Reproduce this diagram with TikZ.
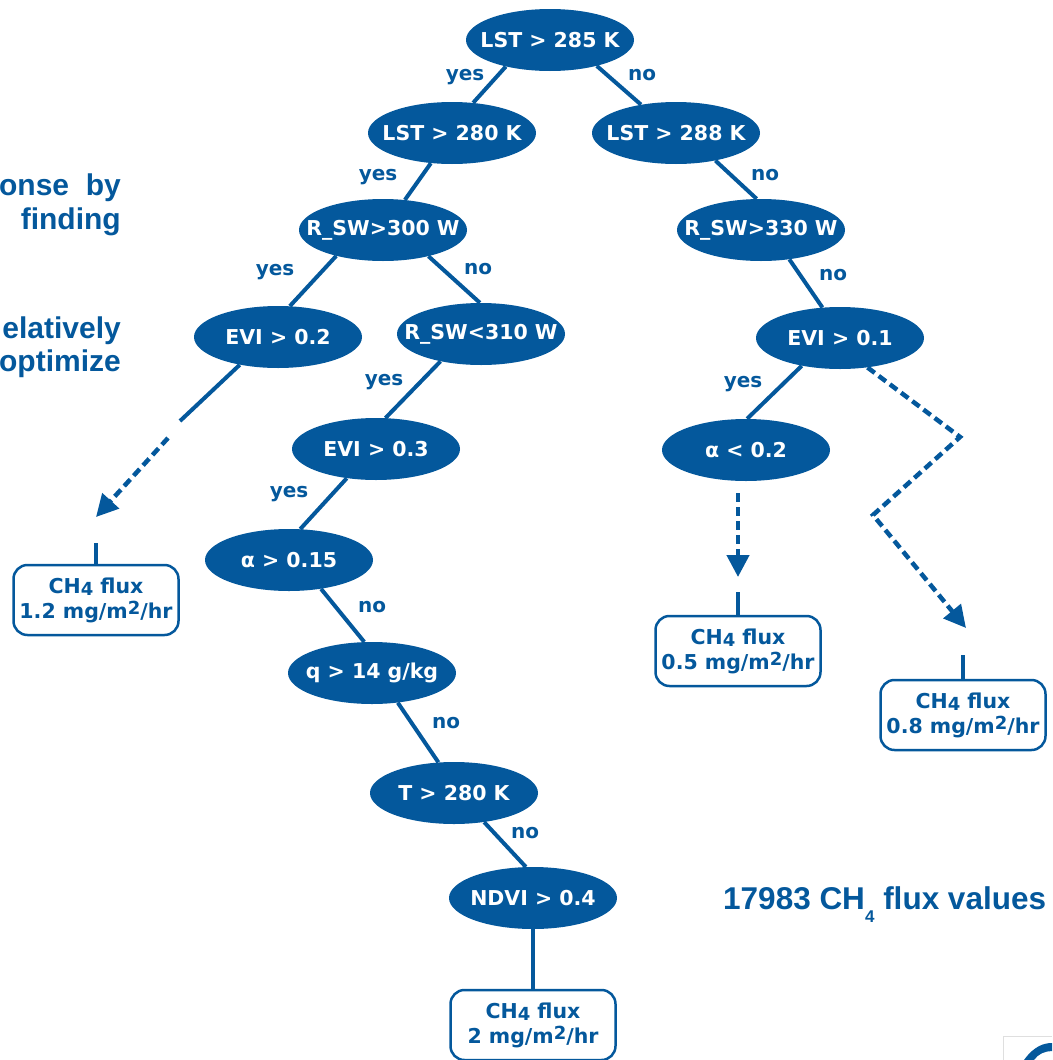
\documentclass[tikz,border=0pt]{standalone}
\usepackage{fontspec}
\setmainfont{DejaVu Sans}
\newfontfamily\slidefont{Liberation Sans}
\usetikzlibrary{shapes.geometric,arrows.meta}
\definecolor{treeblue}{RGB}{4,88,156}
\newcommand{\cond}[1]{\makebox[0pt]{#1}}
\newcommand{\lowfour}{\raisebox{-2pt}{\fontsize{18}{18}\selectfont 4}}
\newcommand{\hightwo}{\raisebox{4pt}{\fontsize{18}{18}\selectfont 2}}
\tikzset{
    test/.style={ellipse, fill=treeblue, text=white, font=\bfseries\fontsize{20.5}{24}\selectfont,
        minimum width=168pt, minimum height=62pt, inner sep=0pt},
    leaf/.style={draw=treeblue, line width=2.5pt, rounded corners=14pt, fill=white, text=treeblue,
        align=center, font=\bfseries\fontsize{20.5}{25}\selectfont,
        minimum width=165pt, minimum height=70pt, inner sep=0pt},
    branch/.style={treeblue, line width=4pt},
    guess/.style={treeblue, line width=4.5pt, dash pattern=on 9pt off 5pt},
    reply/.style={text=treeblue, font=\bfseries\fontsize{20}{22}\selectfont},
    slide/.style={text=treeblue, inner sep=0pt, font=\slidefont\bfseries\fontsize{30}{34}\selectfont}
}
\begin{document}
\begin{tikzpicture}[x=1pt, y=1pt, >={Triangle[length=22pt,width=22pt]}]
    \useasboundingbox (0,0) rectangle (1052,-1060);

    % slide text cut by the left edge
    \node[slide, anchor=base east] (txtA) at (121,-195) {onse\ \ by};
    \node[slide, anchor=base east] (txtB) at (121,-229) {finding};
    \node[slide, anchor=base east] (txtC) at (121,-338) {elatively};
    \node[slide, anchor=base east] (txtD) at (121,-371) {optimize};
    \node[slide, anchor=base west, font=\slidefont\bfseries\fontsize{31.5}{34}\selectfont] (txtE) at (723,-909)
        {17983 CH\raisebox{-13pt}{\fontsize{17}{17}\selectfont 4} flux values};

    % tests
    \node[test] (root) at (550,-40) {\cond{LST > 285 K}};
    \node[test] (lstA) at (452,-133) {\cond{LST > 280 K}};
    \node[test] (lstB) at (676,-133) {\cond{LST > 288 K}};
    \node[test] (swA) at (383,-230) {\cond{R\_SW>300 W}};
    \node[test] (swB) at (761,-230) {\cond{R\_SW>330 W}};
    \node[test] (eviA) at (278,-337) {\cond{EVI > 0.2}};
    \node[test] (swC) at (481,-334) {\cond{R\_SW<310 W}};
    \node[test] (eviB) at (840,-338) {\cond{EVI > 0.1}};
    \node[test] (eviC) at (376,-449) {\cond{EVI > 0.3}};
    \node[test] (alA) at (746,-450) {\cond{α < 0.2}};
    \node[test] (alB) at (289,-560) {\cond{α > 0.15}};
    \node[test] (hum) at (372,-673) {\cond{q > 14 g/kg}};
    \node[test] (tmp) at (454,-793) {\cond{T > 280 K}};
    \node[test] (ndvi) at (533,-898) {\cond{NDVI > 0.4}};

    % leaves
    \node[leaf] (outA) at (96,-600) {CH\lowfour{} flux\\1.2 mg/m\hightwo/hr};
    \node[leaf] (outB) at (738,-651) {CH\lowfour{} flux\\0.5 mg/m\hightwo/hr};
    \node[leaf] (outC) at (963,-715) {CH\lowfour{} flux\\0.8 mg/m\hightwo/hr};
    \node[leaf] (outD) at (533,-1025) {CH\lowfour{} flux\\2 mg/m\hightwo/hr};

    % branches
    \draw[branch] (root.211) -- (lstA.55);
    \draw[branch] (root.331) -- (lstB.141);
    \draw[branch] (lstA.235) -- (swA.54);
    \draw[branch] (lstB.325) -- (swB.98);
    \draw[branch] (swA.209) -- (eviA.69);
    \draw[branch] (swA.330) -- (swC.92);
    \draw[branch] (swB.314) -- (eviB.120);
    \draw[branch] (swC.214) -- (eviC.73);
    \draw[branch] (eviC.225) -- (alB.70);
    \draw[branch] (alB.318) -- (hum.104);
    \draw[branch] (hum.311) -- (tmp.117);
    \draw[branch] (tmp.316) -- (ndvi.103);
    \draw[branch] (ndvi.south) -- (outD.north);
    \draw[branch] (eviB.216) -- (alA.88);

    % shortened paths
    \coordinate (cutA) at (180,-421);
    \coordinate (gapA) at (168,-438);
    \coordinate (tipA) at (96,-517);
    \coordinate (stemA) at (96,-543);
    \draw[branch] (eviA.216) -- (cutA);
    \draw[guess, ->] (gapA) -- (tipA);
    \draw[branch] (stemA) -- (outA.north);

    \coordinate (gapB) at (738,-493);
    \coordinate (tipB) at (738,-577);
    \coordinate (stemB) at (738,-592);
    \draw[guess, ->] (gapB) -- (tipB);
    \draw[branch] (stemB) -- (outB.north);

    \coordinate (bendA) at (960,-437);
    \coordinate (bendB) at (873,-515);
    \coordinate (tipC) at (966,-628);
    \coordinate (stemC) at (963,-655);
    \draw[guess, ->] (eviB.313) -- (bendA) -- (bendB) -- (tipC);
    \draw[branch] (stemC) -- (outC.north);

    % answers
    \node[reply] (y1) at (465,-77) {yes};
    \node[reply] (n1) at (642,-75) {no};
    \node[reply] (y2) at (378,-177) {yes};
    \node[reply] (n2) at (765,-175) {no};
    \node[reply] (y3) at (275,-272) {yes};
    \node[reply] (n3) at (478,-269) {no};
    \node[reply] (n4) at (833,-275) {no};
    \node[reply] (y4) at (384,-382) {yes};
    \node[reply] (y5) at (743,-384) {yes};
    \node[reply] (y6) at (289,-494) {yes};
    \node[reply] (n5) at (372,-607) {no};
    \node[reply] (n6) at (446,-723) {no};
    \node[reply] (n7) at (525,-833) {no};

    % logo corner
    \draw[gray!25, line width=1pt] (1003,-1060) -- (1003,-1036) -- (1052,-1036);
    \fill[treeblue] (1024,-1060) .. controls (1034,-1046) and (1044,-1043) .. (1052,-1043)
        -- (1052,-1051) .. controls (1045,-1051) and (1038,-1054) .. (1034,-1060) -- cycle;
\end{tikzpicture}
\end{document}
